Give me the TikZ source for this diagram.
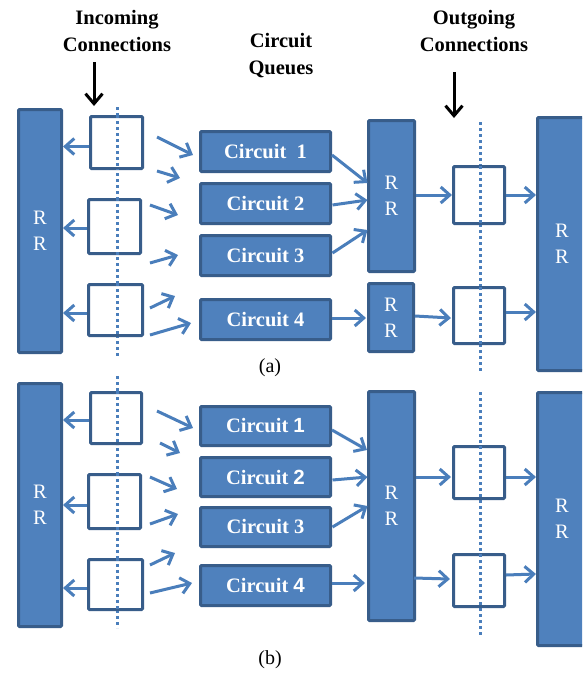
\documentclass[tikz,border=0pt]{standalone}
\usepackage{fontspec}
\setmainfont{Liberation Serif}
\newfontfamily\arialf{Liberation Sans}
\usetikzlibrary{arrows.meta,calc}
\definecolor{bfill}{HTML}{4F81BD}
\definecolor{bline}{HTML}{385D8A}
\definecolor{barrow}{HTML}{4A7EBB}
\tikzset{
  rrbox/.style={draw=bline, fill=bfill, line width=3pt, inner sep=0pt, rounded corners=1pt,
     text=white, font=\fontsize{20.5}{26}\selectfont, align=center},
  cbox/.style={draw=bline, fill=bfill, line width=3pt, inner sep=0pt, rounded corners=1pt,
     text=white, font=\bfseries\fontsize{20.5}{22}\selectfont, minimum width=130pt},
  wbox/.style={draw=bline, fill=white, line width=3pt, inner sep=0pt, rounded corners=1pt},
  arr/.style={draw=barrow, line width=3pt, -{Straight Barb[length=9pt,width=16pt]}},
  karr/.style={draw=black, line width=3pt, -{Straight Barb[length=10pt,width=17pt]}},
  dotl/.style={draw=barrow, line width=3pt, dash pattern=on 3pt off 3pt},
  lbl/.style={font=\bfseries\fontsize{20.5}{27}\selectfont, align=center, inner sep=0pt},
  sublbl/.style={font=\fontsize{20}{24}\selectfont, inner sep=0pt}
}
\begin{document}
\begin{tikzpicture}[x=1pt,y=-1pt]
\clip (0,0) rectangle (582,673);
\fill[white] (0,0) rectangle (582,673);

% titles
\node[lbl] (tin) at (117,31) {Incoming\\Connections};
\node[lbl] (tcq) at (281,56) {Circuit\\Queues};
\node[lbl] (tout) at (474,31) {Outgoing\\Connections};
\coordinate (kin0) at (94,62);
\coordinate (kin1) at (94,106);
\coordinate (kout0) at (454,72);
\coordinate (kout1) at (454,118);
\draw[karr] (kin0) -- (kin1);
\draw[karr] (kout0) -- (kout1);

% ---------------- (a) ----------------
\coordinate (da0) at (117,107);
\coordinate (da1) at (117,357);
\coordinate (ea0) at (480,122);
\coordinate (ea1) at (480,372);
\draw[dotl] (da0) -- (da1);
\draw[dotl] (ea0) -- (ea1);

\node[rrbox, minimum width=43pt, minimum height=243pt] (RLa) at (40,231) {R\\R};
\node[wbox, minimum width=52pt, minimum height=52pt] (ia1) at (116.5,142.5) {};
\node[wbox, minimum width=52pt, minimum height=54pt] (ia2) at (114.5,226.5) {};
\node[wbox, minimum width=54pt, minimum height=51pt] (ia3) at (115.5,310) {};
\draw[dotl] (117,115) -- (117,170);
\draw[dotl] (117,198) -- (117,255);
\draw[dotl] (117,283) -- (117,337);

\node[cbox, minimum height=40pt] (ca1) at (265.5,151.5) {Circuit\ \ 1};
\node[cbox, minimum height=40pt] (ca2) at (265.5,203.5) {Circuit 2};
\node[cbox, minimum height=40pt] (ca3) at (265.5,255.5) {Circuit 3};
\node[cbox, minimum height=40pt] (ca4) at (265.5,319.5) {Circuit 4};

\node[rrbox, minimum width=46pt, minimum height=151pt] (RMa1) at (391.5,196) {R\\R};
\node[rrbox, minimum width=45pt, minimum height=68pt] (RMa2) at (391,317.5) {R\\R};

\node[wbox, minimum width=51pt, minimum height=57pt] (oa1) at (479,195) {};
\node[wbox, minimum width=51pt, minimum height=56pt] (oa2) at (479,315.5) {};
\draw[dotl] (480,166) -- (480,224);
\draw[dotl] (480,287) -- (480,344);

\node[rrbox, minimum width=49pt, minimum height=253pt] (RRa) at (562,244) {R\\R};

% arrows (a)
\draw[arr] ([yshift=-4pt]ia1.west) -- ([yshift=-4pt]ia1.west -| RLa.east);
\draw[arr] ([yshift=-1.5pt]ia2.west) -- ([yshift=-1.5pt]ia2.west -| RLa.east);
\draw[arr] ([yshift=-3pt]ia3.west) -- ([yshift=-3pt]ia3.west -| RLa.east);

\draw[arr] ($(ia1.east)+(13,-5.5)$) -- ($(ca1.west)+(-6,3.5)$);
\draw[arr] ($(ia1.east)+(13,28.5)$) -- ($(ca2.west)+(-19,-25.5)$);
\draw[arr] ($(ia2.east)+(8,-21.5)$) -- ($(ca2.west)+(-21,11.5)$);
\draw[arr] ($(ia2.east)+(8,36.5)$) -- ($(ca3.west)+(-21,-0.5)$);
\draw[arr] ($(ia3.east)+(6,-2)$) -- ($(ca4.west)+(-24,-23.5)$);
\draw[arr] ($(ia3.east)+(6,25)$) -- ($(ca4.west)+(-8,3.5)$);

\draw[arr] ($(ca1.east)+(0,3.5)$) -- ($(RMa1.west)+(0.5,-13)$);
\draw[arr] ($(ca2.east)+(0.5,1.5)$) -- ($(RMa1.west)+(0.5,4)$);
\draw[arr] ($(ca3.east)+(0.5,-2.5)$) -- ($(RMa1.west)+(0.5,34)$);
\draw[arr] ($(ca4.east)+(0,-1.5)$) -- ($(RMa2.west)+(-1,0.5)$);

\draw[arr] (RMa1.east |- oa1.west) -- (oa1.west);
\draw[arr] ($(RMa2.east)+(0,-1.5)$) -- ($(oa2.west)+(-1,2.5)$);
\draw[arr] (oa1.east) -- (oa1.east -| RRa.west);
\draw[arr] ($(oa2.east)+(0,-3.5)$) -- ($(oa2.east -| RRa.west)+(0,-3.5)$);

\node[sublbl] (la) at (270,368) {(a)};

% ---------------- (b) ----------------
\coordinate (db0) at (117,376);
\coordinate (db1) at (117,628);
\coordinate (eb0) at (480,392);
\coordinate (eb1) at (480,637);
\draw[dotl] (db0) -- (db1);
\draw[dotl] (eb0) -- (eb1);

\node[rrbox, minimum width=43pt, minimum height=243pt] (RLb) at (40,505) {R\\R};
\node[wbox, minimum width=51pt, minimum height=51pt] (ib1) at (116,418) {};
\node[wbox, minimum width=52pt, minimum height=54pt] (ib2) at (114.5,501.5) {};
\node[wbox, minimum width=54pt, minimum height=50pt] (ib3) at (115.5,584.5) {};
\draw[dotl] (117,391) -- (117,445);
\draw[dotl] (117,473) -- (117,530);
\draw[dotl] (117,558) -- (117,611);

\node[cbox, minimum height=39pt] (cb1) at (265.5,426) {Circuit {\arialf 1}};
\node[cbox, minimum height=39pt] (cb2) at (265.5,477) {Circuit {\arialf 2}};
\node[cbox, minimum height=39pt] (cb3) at (265.5,527) {Circuit 3};
\node[cbox, minimum height=40pt] (cb4) at (265.5,585.5) {Circuit {\arialf 4}};

\node[rrbox, minimum width=46pt, minimum height=229pt] (RMb) at (391.5,506) {R\\R};

\node[wbox, minimum width=51pt, minimum height=52pt] (ob1) at (479,472.5) {};
\node[wbox, minimum width=51pt, minimum height=52pt] (ob2) at (479,580.5) {};
\draw[dotl] (480,446) -- (480,499);
\draw[dotl] (480,554) -- (480,607);

\node[rrbox, minimum width=49pt, minimum height=253pt] (RRb) at (562,519) {R\\R};

% arrows (b)
\draw[arr] ([yshift=-2pt]ib1.west) -- ([yshift=-2pt]ib1.west -| RLb.east);
\draw[arr] ([yshift=-3.5pt]ib2.west) -- ([yshift=-3.5pt]ib2.west -| RLb.east);
\draw[arr] ([yshift=-3.5pt]ib3.west) -- ([yshift=-3.5pt]ib3.west -| RLb.east);

\draw[arr] ($(ib1.east)+(14,-7)$) -- ($(cb1.west)+(-6,2)$);
\draw[arr] ($(ib1.east)+(17,25)$) -- ($(cb2.west)+(-19,-24)$);
\draw[arr] ($(ib2.east)+(8,-24.5)$) -- ($(cb2.west)+(-22,12)$);
\draw[arr] ($(ib2.east)+(8,22.5)$) -- ($(cb3.west)+(-21,-13)$);
\draw[arr] ($(ib3.east)+(6,-19.5)$) -- ($(cb4.west)+(-24,-32.5)$);
\draw[arr] ($(ib3.east)+(6,8.5)$) -- ($(cb4.west)+(-7,-2.5)$);

\draw[arr] ($(cb1.east)+(0,4)$) -- ($(RMb.west)+(0,-56)$);
\draw[arr] ($(cb2.east)+(0.5,3)$) -- ($(RMb.west)+(0.5,-29)$);
\draw[arr] ($(cb3.east)+(0.5,0)$) -- ($(RMb.west)+(0.5,0)$);
\draw[arr] ($(cb4.east)+(0,-2.5)$) -- ($(RMb.west)+(-2,77)$);

\draw[arr] ($(RMb.east)+(0,-29)$) -- ($(ob1.west)+(-1,4.5)$);
\draw[arr] ($(RMb.east)+(-2,72)$) -- ($(ob2.west)+(-2,-1.5)$);
\draw[arr] ($(ob1.east)+(0,4.5)$) -- ($(ob1.east -| RRb.west)+(0,4.5)$);
\draw[arr] ($(ob2.east)+(0,-5.5)$) -- ($(ob2.east -| RRb.west)+(0,-6.5)$);

\node[sublbl] (lb) at (270,660) {(b)};
\end{tikzpicture}
\end{document}
